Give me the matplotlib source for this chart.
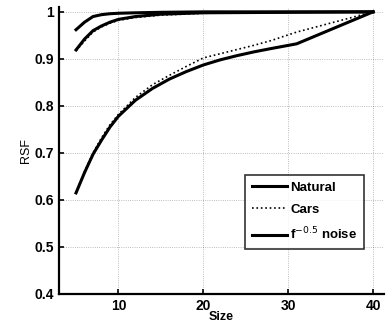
import matplotlib
matplotlib.use("Agg")
import matplotlib.pyplot as plt

plt.rcParams['font.family'] = ['Liberation Sans', 'DejaVu Sans']

# --- Lower curves
size_low = [5, 6, 7, 8, 9, 10, 12, 14, 16, 18, 20, 22, 24, 26, 28, 31, 40]
noise_low = [0.615, 0.658, 0.697, 0.727, 0.755, 0.778, 0.812, 0.837, 0.857, 0.873,
             0.887, 0.898, 0.907, 0.915, 0.922, 0.932, 1.0]
cars_low = [0.615, 0.660, 0.700, 0.732, 0.760, 0.782, 0.818, 0.845, 0.865, 0.884,
            0.902, 0.911, 0.920, 0.929, 0.939, 0.957, 1.0]

# --- Upper curves
size_up = [5, 6, 7, 8, 9, 10, 12, 15, 20, 30, 40]
natural_up = [0.962, 0.978, 0.990, 0.994, 0.996, 0.997, 0.998, 0.999, 1.0, 1.0, 1.0]
noise_up = [0.919, 0.942, 0.960, 0.970, 0.978, 0.984, 0.990, 0.995, 0.998, 0.999, 1.0]
cars_up = [0.917, 0.938, 0.957, 0.968, 0.976, 0.982, 0.988, 0.993, 0.997, 0.999, 1.0]

fig = plt.figure(figsize=(3.86, 3.27), dpi=100)
ax = fig.add_axes([0.153, 0.101, 0.842, 0.878])

ax.plot(size_up, natural_up, color='black', lw=2.2, label='Natural')
ax.plot(size_up, cars_up, color='black', lw=1.2, ls=':', label='Cars')
ax.plot(size_up, noise_up, color='black', lw=2.2, label='f$^{-0.5}$ noise')
ax.plot(size_low, cars_low, color='black', lw=1.2, ls=':')
ax.plot(size_low, noise_low, color='black', lw=2.2)

ax.set_xlim(3, 41.3)
ax.set_ylim(0.4, 1.0106)
ax.set_xticks([10, 20, 30, 40])
ax.set_yticks([0.4, 0.5, 0.6, 0.7, 0.8, 0.9, 1.0])
ax.set_yticklabels(['0.4', '0.5', '0.6', '0.7', '0.8', '0.9', '1'])
ax.grid(True, color='black', ls=':', lw=0.6, alpha=0.35)
ax.tick_params(direction='in', labelsize=10, width=1.2)
for lab in ax.get_xticklabels() + ax.get_yticklabels():
    lab.set_fontweight('bold')

ax.spines['top'].set_visible(False)
ax.spines['right'].set_visible(False)
ax.spines['left'].set_linewidth(1.6)
ax.spines['bottom'].set_linewidth(1.6)

ax.set_xlabel('Size', fontsize=9, fontweight='bold', labelpad=-1)
ax.set_ylabel('RSF', fontsize=9, labelpad=2)

leg = ax.legend(loc='lower right', bbox_to_anchor=(0.958, 0.134), fontsize=9.5,
                frameon=True, fancybox=False, edgecolor='black', handlelength=2.7,
                borderpad=0.5, labelspacing=0.75, handletextpad=0.2)
leg.get_frame().set_linewidth(1.2)
for t in leg.get_texts():
    t.set_fontweight('bold')

fig.savefig('out.png', dpi=100)
